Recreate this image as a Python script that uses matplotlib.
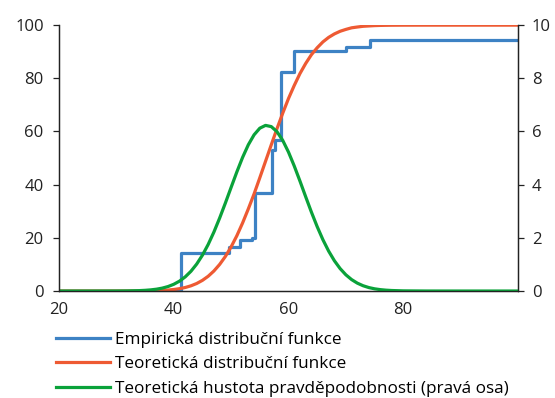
import matplotlib.pyplot as plt

# empiricka distribucni funkce (schody), hodnoty v %
emp_x = [20, 41.2, 49.6, 51.5, 53.7, 54.1, 57.2, 57.6, 58.7, 61.0, 70.0, 74.2, 100]
emp_y = [0, 14.3, 16.4, 19.2, 20.0, 37.0, 52.9, 56.8, 82.5, 90.3, 91.6, 94.6, 94.6]

# teoreticke krivky
teor_x = [20, 26, 30, 32, 34, 35, 36, 37, 38, 39, 40, 41, 42, 43, 44, 45, 46, 47,
          48, 49, 50, 51, 52, 53, 54, 55, 56, 57, 58, 59, 60, 61, 62, 63, 64, 65,
          66, 67, 68, 69, 70, 71, 72, 73, 74, 75, 76, 77, 78, 80, 84, 90, 100]
teor_cdf = [0, 0, 0.002, 0.008, 0.026, 0.046, 0.08, 0.135, 0.22, 0.36, 0.57, 0.88,
            1.32, 1.96, 2.83, 4.01, 5.55, 7.53, 10.0, 13.0, 16.6, 20.8, 25.6, 30.9,
            36.5, 42.6, 48.8, 55.0, 61.1, 66.9, 72.4, 77.3, 81.8, 85.6, 88.9, 91.5,
            93.7, 95.4, 96.7, 97.7, 98.4, 99.0, 99.3, 99.57, 99.7, 99.83, 99.9,
            99.94, 99.97, 99.99, 100, 100, 100]
teor_pdf = [0, 0.0001, 0.0014, 0.0049, 0.015, 0.026, 0.043, 0.069, 0.109, 0.168,
            0.253, 0.371, 0.532, 0.743, 1.014, 1.348, 1.750, 2.218, 2.744, 3.310,
            3.898, 4.480, 5.026, 5.501, 5.875, 6.124, 6.230, 6.184, 5.992, 5.664,
            5.225, 4.705, 4.135, 3.544, 2.965, 2.422, 1.930, 1.501, 1.139, 0.844,
            0.610, 0.430, 0.296, 0.199, 0.130, 0.083, 0.052, 0.032, 0.019, 0.006,
            0.0005, 0, 0]

labels = ["Empirická distribuční funkce",
          "Teoretická distribuční funkce",
          "Teoretická hustota pravděpodobnosti (pravá osa)"]
colors = ["#3d82c4", "#ee5a33", "#0aa23a"]

plt.rcParams['font.family'] = ['Open Sans', 'DejaVu Sans']
plt.rcParams['font.size'] = 12

fig = plt.figure(figsize=(5.55, 3.98), dpi=100)
ax = fig.add_axes([0.1063, 0.2688, 0.827, 0.668])
ax2 = ax.twinx()

l1, = ax.plot(emp_x, emp_y, drawstyle='steps-post', color=colors[0], lw=2.3)
l2, = ax.plot(teor_x, teor_cdf, color=colors[1], lw=2.3)
l3, = ax2.plot(teor_x, teor_pdf, color=colors[2], lw=2.3)

ax.set_xlim(20, 100)
ax.set_ylim(0, 100)
ax2.set_ylim(0, 10)
ax.set_xticks([20, 40, 60, 80])
ax.set_yticks(range(0, 101, 20))
ax2.set_yticks(range(0, 11, 2))

for a in (ax, ax2):
    a.spines['top'].set_visible(False)
    for s in a.spines.values():
        s.set_linewidth(0.9)
        s.set_color('#222222')
ax.tick_params(axis='x', length=0, pad=8, colors='#222222')
ax.tick_params(axis='y', length=4, width=0.9, pad=7, colors='#222222')
ax2.tick_params(axis='y', length=4, width=0.9, pad=6, colors='#222222')

fig.legend([l1, l2, l3], labels, loc='upper left',
           bbox_to_anchor=(0.0888, 0.1835), frameon=False,
           handlelength=3.16, handletextpad=0.29, labelspacing=0.49,
           borderaxespad=0, fontsize=12.3)

fig.savefig('out.png', dpi=100)
